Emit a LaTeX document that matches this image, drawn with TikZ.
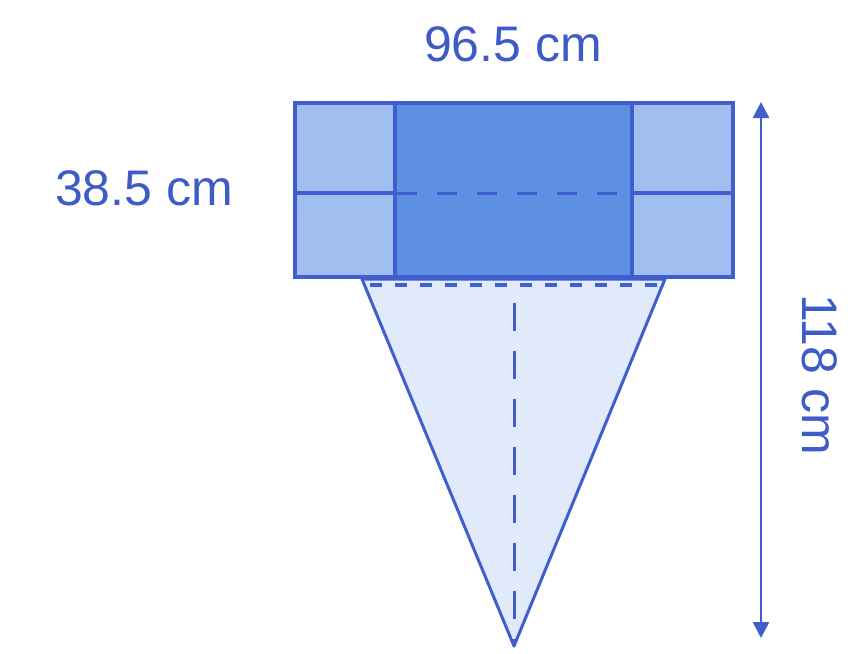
\documentclass[tikz,border=0pt]{standalone}
\usepackage{fontspec}
\setmainfont{Liberation Sans}
\usetikzlibrary{arrows.meta}
\definecolor{edgec}{RGB}{64,94,205}
\definecolor{darkf}{RGB}{93,143,227}
\definecolor{lightf}{RGB}{160,190,240}
\definecolor{trif}{RGB}{224,234,250}
\definecolor{txtc}{RGB}{62,92,200}
\tikzset{
  edge/.style={draw=edgec, line width=4pt, line join=miter},
  lbl/.style={text=txtc, font=\fontsize{50}{60}\selectfont, inner sep=0pt},
}
\begin{document}
\begin{tikzpicture}[x=1pt,y=-1pt]
\useasboundingbox (0,0) rectangle (864,653);
% triangle
\coordinate (tl) at (362,279);
\coordinate (tr) at (665,279);
\coordinate (apex) at (514,646);
\filldraw[draw=edgec, fill=trif, line width=3pt, line join=round] (tl) -- (tr) -- (apex) -- cycle;
\draw[edgec, line width=4pt, dash pattern=on 12pt off 13pt] (370,285) -- (660,285);
\coordinate (vtop) at (514,303);
\draw[edgec, line width=3pt, dash pattern=on 28pt off 20pt] (vtop) -- (apex);
% rectangles
\filldraw[edge, fill=lightf] (295,103) rectangle (395,193);
\filldraw[edge, fill=lightf] (295,193) rectangle (395,277);
\filldraw[edge, fill=lightf] (632,103) rectangle (733,193);
\filldraw[edge, fill=lightf] (632,193) rectangle (733,277);
\filldraw[edge, fill=darkf] (395,103) rectangle (632,277);
\draw[edgec, line width=3pt, dash pattern=on 20pt off 20pt, dash phase=-2pt] (395,193) -- (632,193);
% dimension arrow
\coordinate (atop) at (761,102);
\coordinate (abot) at (761,638);
\draw[edgec, line width=2.5pt, {Triangle[width=16pt,length=16pt]}-{Triangle[width=16pt,length=16pt]}] (atop) -- (abot);
% labels
\node[lbl] (w) at (513,44) {96.5 cm};
\node[lbl] (h) at (144,188) {38.5 cm};
\node[lbl, rotate=-90] (l) at (820,375) {118 cm};
\end{tikzpicture}
\end{document}
